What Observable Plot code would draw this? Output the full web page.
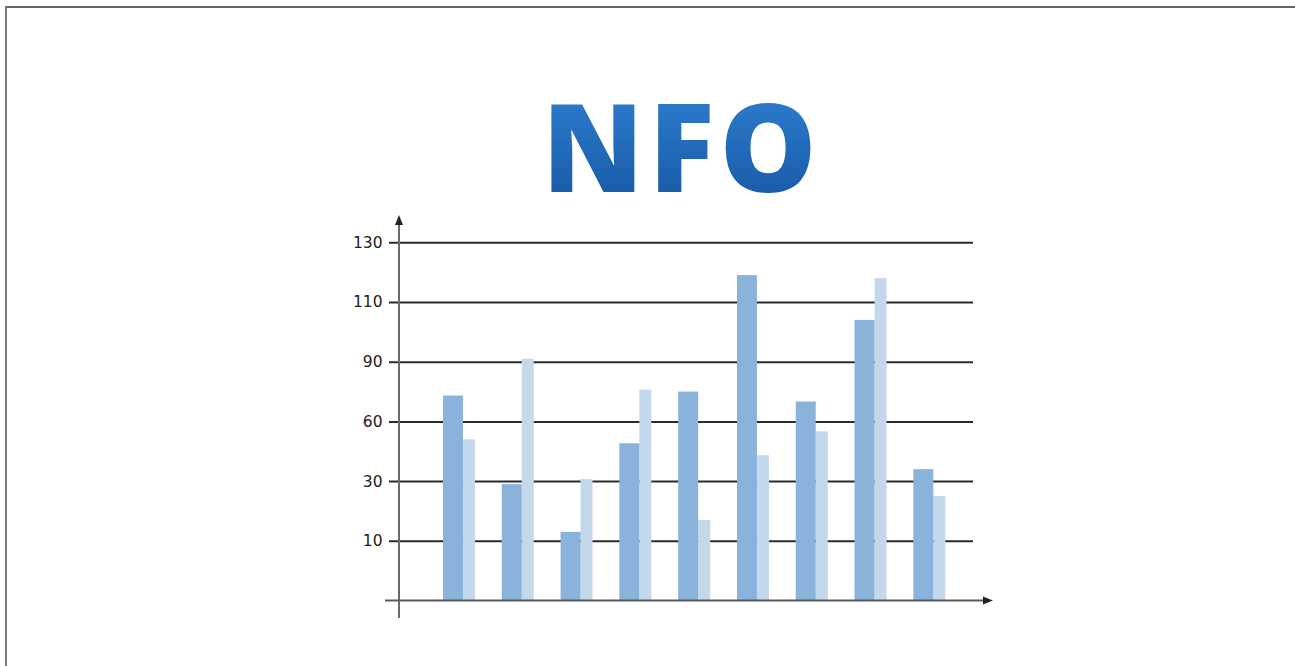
<!DOCTYPE html>
<html><head><meta charset="utf-8">
<script src="https://cdn.jsdelivr.net/npm/d3@7"></script>
<script src="https://cdn.jsdelivr.net/npm/@observablehq/plot@0.6"></script>
<style>
html,body{margin:0;padding:0;background:#fff;width:1295px;height:666px;overflow:hidden;position:relative;}
#frame{position:absolute;left:5px;top:6px;width:1310px;height:700px;border-top:2px solid #666;border-left:2px solid #777;box-sizing:border-box;}
#title{position:absolute;left:542px;top:84px;font-family:"Open Sans",Roboto,sans-serif;font-weight:800;font-size:122px;line-height:1;letter-spacing:5px;
  background:linear-gradient(180deg,#2f7fcf 0%,#2169b9 55%,#1859a5 100%);-webkit-background-clip:text;background-clip:text;color:transparent;white-space:nowrap;}
#chart{position:absolute;left:0;top:200px;}
</style></head>
<body>
<div id="frame"></div>
<div id="title">NFO</div>
<div id="chart"></div>
<script>
const categories = ["1","2","3","4","5","6","7","8","9"];
const seriesDark = [73, 29, 13, 49, 75, 119, 70, 104, 36];
const seriesLight = [51, 91, 31, 76, 17, 43, 55, 118, 25];
const yTicks = [10, 30, 60, 90, 110, 130];
const yBreaks = [0, ...yTicks];

const W = 1295, H = 440, baseY = 400.5, stepY = 59.7;

function axisLines(index, scales, values, dim) {
  const g = d3.create("svg:g");
  const y0 = scales.y(0);
  const x0 = dim.marginLeft;
  const topTip = dim.marginTop - 27;
  const rightTip = dim.width - dim.marginRight + 20;
  g.append("line").attr("x1", x0).attr("x2", x0).attr("y1", y0 + 17.5).attr("y2", topTip + 8)
    .attr("stroke", "#6a6a6a").attr("stroke-width", 2);
  g.append("path").attr("d", `M${x0},${topTip}L${x0 - 4},${topTip + 10}L${x0 + 4},${topTip + 10}Z`).attr("fill", "#222");
  g.append("line").attr("x1", x0 - 14).attr("x2", rightTip - 8).attr("y1", y0).attr("y2", y0)
    .attr("stroke", "#5a5a5a").attr("stroke-width", 2);
  g.append("path").attr("d", `M${rightTip},${y0}L${rightTip - 10},${y0 - 4}L${rightTip - 10},${y0 + 4}Z`).attr("fill", "#222");
  return g.node();
}

const chart = Plot.plot({
  width: W, height: H,
  marginLeft: 399, marginRight: 322, marginTop: 42, marginBottom: 40,
  x: {type: "band", domain: categories, range: [399, 989.3], paddingInner: 0.456, paddingOuter: 0.748, round: false, axis: null},
  y: {type: "linear", domain: yBreaks, range: yBreaks.map((d, i) => baseY - i * stepY)},
  marks: [
    Plot.ruleY(yTicks, {stroke: "#2b2b2b", strokeWidth: 2, insetLeft: -10}),
    Plot.barY(categories, {x: categories, y: seriesLight, fill: "#c4d8ec", insetLeft: 20}),
    Plot.barY(categories, {x: categories, y: seriesDark, fill: "#8ab3dc", insetRight: 12}),
    Plot.axisY(yTicks, {tickSize: 0, tickPadding: 17, fontSize: 15.5, fontFamily: "DejaVu Sans", fill: "#222"}),
    axisLines
  ]
});
document.getElementById("chart").appendChild(chart);
</script>
</body></html>
